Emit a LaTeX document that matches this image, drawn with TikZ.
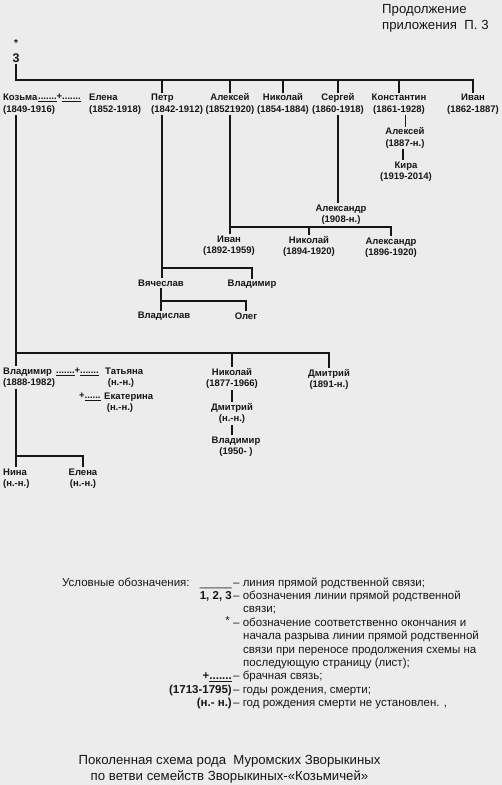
\documentclass[tikz,border=0pt]{standalone}
\usepackage{fontspec}
\setmainfont{Liberation Sans}
\usetikzlibrary{calc}
\definecolor{paper}{RGB}{236,236,236}
\definecolor{ink}{RGB}{22,22,22}

\begin{document}
\begin{tikzpicture}[
  x=1pt, y=-1pt,
  pers/.style={font=\fontsize{9.5}{11.5}\selectfont\bfseries, align=center, inner sep=1pt, text=ink},
  persl/.style={pers, align=left, anchor=west},
  link/.style={draw=ink, line width=1.3pt},
  note/.style={font=\fontsize{11.5}{13}\selectfont, inner sep=0pt, text=ink},
  key/.style={note, font=\fontsize{11.5}{13}\selectfont\bfseries, anchor=base east},
  txt/.style={note, anchor=base west},
  head/.style={font=\fontsize{13.2}{16}\selectfont, inner sep=0pt, text=ink},
]
\fill[paper] (0,0) rectangle (502,785);
\node[head, align=left, anchor=west] (cont) at (382,18) {Продолжение\\приложения\ \ П. 3};
\node[pers, font=\fontsize{10}{12}\selectfont\bfseries] (star) at (16,43) {*};
\node[pers, font=\fontsize{12.5}{12}\selectfont\bfseries] (num) at (16,58) {3};

\node[persl] (kozma) at (2,104) {Козьма\\(1849-1916)};
\node[pers, anchor=west] (wed1) at (37,98) {\underline{.......}+\underline{.......}};
\node[persl] (elena) at (88,104) {Елена\\(1852-1918)};
\node[persl] (petr) at (150,104) {Петр\\(1842-1912)};
\node[pers] (aleks) at (230,104) {Алексей\\(18521920)};
\node[pers] (nikol) at (283,104) {Николай\\(1854-1884)};
\node[pers] (serg) at (338,104) {Сергей\\(1860-1918)};
\node[pers] (kost) at (399,104) {Константин\\(1861-1928)};
\node[pers] (ivan) at (473,104) {Иван\\(1862-1887)};
\coordinate (top) at (16,80);
\coordinate (pl) at (162,80);
\draw[link] (num) -- (top) -| (ivan.north);
\draw[link] (pl) -- (pl |- petr.north);
\foreach \p in {aleks, nikol, serg, kost} \draw[link] (\p.north |- top) -- (\p.north);

\node[pers] (alek3) at (405,138) {Алексей\\(1887-н.)};
\node[pers] (kira) at (406,171.5) {Кира\\(1919-2014)};
\draw[link, line width=0.6pt] (alek3.north |- kost.south) -- (alek3.north);
\draw[link, line width=1.6pt] (alek3.south -| 403,0) -- (kira.north -| 403,0);

\node[pers] (alex1) at (341,214.5) {Александр\\(1908-н.)};
\draw[link] (serg.south) -- (serg.south |- alex1.north);

\coordinate (bA) at (228,227);
\node[pers] (ivan2) at (229,245.5) {Иван\\(1892-1959)};
\node[pers] (nik2) at (309,246.5) {Николай\\(1894-1920)};
\node[pers] (alx2) at (391,247.5) {Александр\\(1896-1920)};
\draw[link] (aleks.south) -- (aleks.south |- ivan2.north);
\draw[link] (aleks.south |- bA) -| (alx2.north);
\draw[link] (nik2.north |- bA) -- (nik2.north);

\coordinate (bP) at (161,268);
\coordinate (bW) at (161,301);
\node[pers] (vyach) at (161,283) {Вячеслав};
\node[pers] (vlad2) at (252,284) {Владимир};
\node[pers] (vladis) at (164,316) {Владислав};
\node[pers] (oleg) at (246,316) {Олег};
\draw[link] (pl |- petr.south) -- (pl |- vyach.north);
\draw[link] (pl |- bP) -| (vlad2.north);
\draw[link] (vyach.south) -- (vyach.south |- vladis.north);
\draw[link] (vyach.south |- bW) -| (oleg.north);

\coordinate (bV) at (16,353);
\node[persl] (vlad) at (2,377.5) {Владимир\\(1888-1982)};
\node[pers, anchor=west] (wed2) at (55,372) {\underline{.......}+\underline{.......}};
\node[persl] (tat) at (104,377.5) {Татьяна\\\ (н.-н.)};
\node[pers, anchor=west] (wed3) at (78,397) {+\underline{......}};
\node[persl] (ekat) at (103,402.5) {Екатерина\\\ (н.-н.)};
\node[pers] (nik3) at (232,378.5) {Николай\\(1877-1966)};
\node[pers] (dmi2) at (329,379.5) {Дмитрий\\(1891-н.)};
\node[pers] (dmi3) at (232,413.5) {Дмитрий\\(н.-н.)};
\node[pers] (vlad3) at (236,446.5) {Владимир\\(1950- )};
\draw[link] (top |- kozma.south) -- (top |- vlad.north);
\draw[link] (bV) -| (dmi2.north);
\draw[link] (nik3.north |- bV) -- (nik3.north);
\draw[link] (nik3) -- (dmi3);
\draw[link] (dmi3.south) -- (dmi3.south |- vlad3.north);

\coordinate (bN) at (16,456);
\node[persl] (nina) at (2,478.5) {Нина\\(н.-н.)};
\node[pers] (elena2) at (83,478.5) {Елена\\(н.-н.)};
\draw[link] (top |- vlad.south) -- (top |- nina.north);
\draw[link] (bN) -| (elena2.north);

\node[txt] (leg) at (62,586) {Условные обозначения:};
\node[key, font=\fontsize{11.5}{13}\selectfont] (k1) at (232,586) {\_\_\_\_\_};
\node[txt] (d1) at (233,586) {– линия прямой родственной связи;};
\node[key] (k2) at (232,599.4) {1, 2, 3};
\node[txt] (d2) at (233,599.4) {– обозначения линии прямой родственной};
\node[txt] (d3) at (243,612.8) {связи;};
\node[key, font=\fontsize{11.5}{13}\selectfont] (k4) at (230,624.4) {*};
\node[txt] (d4) at (233,626.2) {– обозначение соответственно окончания и};
\node[txt] (d5) at (243,639.6) {начала разрыва линии прямой родственной};
\node[txt] (d6) at (243,653) {связи при переносе продолжения схемы на};
\node[txt] (d7) at (243,666.4) {последующую страницу (лист);};
\node[key] (k8) at (232,679.8) {+\underline{.......}};
\node[txt] (d8) at (233,679.8) {– брачная связь;};
\node[key] (k9) at (232,693.2) {(1713-1795)};
\node[txt] (d9) at (233,693.2) {– годы рождения, смерти;};
\node[key] (k10) at (232,706.6) {(н.- н.)};
\node[txt] (d10) at (233,706.6) {– год рождения смерти не установлен. ,};

\node[head, align=center] (title) at (229.5,769.5) {Поколенная схема рода\ \ Муромских Зворыкиных\\по ветви семейств Зворыкиных-«Козьмичей»};
\end{tikzpicture}
\end{document}
